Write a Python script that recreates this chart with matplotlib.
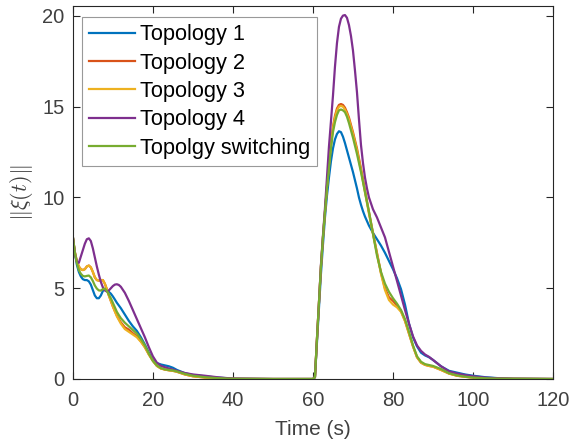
import matplotlib
matplotlib.use('Agg')
import matplotlib.pyplot as plt
import numpy as np

# time samples (s)
t = [0, 0.5, 1, 1.5, 2, 2.5, 3, 3.5, 4, 4.5, 5, 5.5, 6, 6.5, 7, 7.5, 8, 8.5,
     9, 9.5, 10, 10.5, 11, 11.5, 12,
     13, 14, 15, 16, 17, 18, 19, 20, 21, 22, 23, 24, 25, 26,
     28, 30, 33, 36, 40, 50, 60,
     60.5, 61, 61.5, 62, 62.5, 63, 63.5, 64, 64.5, 65, 65.5, 66, 66.5, 67,
     67.5, 68, 68.5, 69, 69.5, 70, 70.5, 71, 71.5, 72, 72.5, 73, 73.5, 74,
     75, 76, 77, 78, 79, 80, 81, 82, 83, 84, 85, 86, 87, 88, 89, 90,
     92, 94, 96, 98, 100, 103, 106, 110, 120]

topo1 = [7.84, 7.0, 6.3, 5.9, 5.65, 5.5, 5.45, 5.45, 5.38, 5.2, 4.9, 4.6, 4.45,
         4.45, 4.6, 4.85, 4.95, 4.9, 4.8, 4.7, 4.55, 4.38, 4.2, 4.05, 3.9,
         3.55, 3.2, 2.9, 2.65, 2.3, 1.9, 1.45, 1.05, 0.88, 0.8, 0.75, 0.7, 0.62, 0.5,
         0.32, 0.22, 0.15, 0.08, 0.02, 0, 0,
         0.1, 2.0, 3.9, 5.8, 7.4, 8.9, 10.1, 11.1, 12.0, 12.7, 13.2, 13.5, 13.65,
         13.6, 13.35, 13.0, 12.6, 12.2, 11.8, 11.4, 10.95, 10.5, 10.0, 9.6, 9.25,
         8.95, 8.7, 8.45,
         8.05, 7.7, 7.35, 6.95, 6.5, 6.05, 5.55, 4.95, 4.1, 3.05, 2.3, 1.8, 1.45,
         1.3, 1.2, 1.05,
         0.7, 0.45, 0.35, 0.25, 0.18, 0.1, 0.05, 0.02, 0]

topo2 = [7.84, 7.0, 6.5, 6.2, 6.05, 6.0, 6.05, 6.2, 6.25, 6.15, 5.9, 5.6, 5.45,
         5.42, 5.45, 5.45, 5.25, 4.95, 4.6, 4.3, 4.0, 3.74, 3.5, 3.3, 3.12,
         2.85, 2.72, 2.52, 2.35, 2.08, 1.75, 1.35, 1.0, 0.72, 0.58, 0.52, 0.48, 0.45, 0.4,
         0.25, 0.15, 0.08, 0.04, 0.01, 0, 0,
         0.1, 2.2, 4.2, 6.2, 7.8, 9.2, 10.6, 11.85, 12.95, 13.9, 14.5, 14.9, 15.1,
         15.15, 15.1, 14.95, 14.7, 14.4, 14.0, 13.6, 13.15, 12.7, 12.15, 11.6,
         11.0, 10.4, 9.8, 9.2,
         8.05, 6.95, 5.85, 5.0, 4.5, 4.3, 4.05, 3.75, 3.2, 2.5, 1.8, 1.2, 0.9,
         0.78, 0.72, 0.68,
         0.5, 0.3, 0.18, 0.12, 0.08, 0.04, 0.02, 0.01, 0]

topo3 = [7.84, 7.0, 6.5, 6.2, 6.05, 6.0, 6.05, 6.2, 6.25, 6.15, 5.9, 5.6, 5.45,
         5.42, 5.45, 5.45, 5.25, 4.95, 4.6, 4.3, 4.0, 3.72, 3.45, 3.25, 3.05,
         2.75, 2.6, 2.45, 2.3, 2.05, 1.75, 1.35, 1.0, 0.72, 0.58, 0.52, 0.48, 0.45, 0.4,
         0.25, 0.15, 0.08, 0.04, 0.01, 0, 0,
         0.1, 2.2, 4.2, 6.2, 7.8, 9.2, 10.6, 11.8, 12.9, 13.8, 14.4, 14.8, 15.0,
         15.05, 15.0, 14.85, 14.6, 14.3, 13.9, 13.5, 13.05, 12.6, 12.05, 11.5,
         10.9, 10.3, 9.7, 9.1,
         8.0, 6.9, 5.8, 4.9, 4.35, 4.1, 3.95, 3.7, 3.2, 2.5, 1.8, 1.2, 0.9,
         0.78, 0.72, 0.68,
         0.5, 0.3, 0.18, 0.12, 0.08, 0.04, 0.02, 0.01, 0]

topo4 = [7.84, 6.9, 6.45, 6.4, 6.75, 7.1, 7.45, 7.7, 7.75, 7.6, 7.2, 6.7, 6.2,
         5.75, 5.35, 5.05, 4.88, 4.82, 4.88, 5.0, 5.12, 5.2, 5.22, 5.18, 5.08,
         4.75, 4.3, 3.8, 3.3, 2.8, 2.3, 1.75, 1.25, 0.9, 0.72, 0.65, 0.58, 0.52, 0.45,
         0.33, 0.25, 0.18, 0.1, 0.02, 0, 0,
         0.1, 2.2, 4.2, 6.3, 7.9, 9.4, 11.1, 12.8, 14.2, 15.6, 17.2, 18.5, 19.4,
         19.85, 20.02, 20.05, 19.9, 19.5, 18.9, 18.1, 17.0, 15.8, 14.3, 12.9,
         11.9, 11.1, 10.5, 10.0,
         9.35, 8.9, 8.35, 7.8, 7.0, 6.2, 5.4, 4.6, 3.8, 3.05, 2.35, 1.85, 1.55,
         1.35, 1.22, 1.05,
         0.7, 0.42, 0.3, 0.22, 0.15, 0.08, 0.04, 0.01, 0]

switching = [7.84, 6.95, 6.4, 6.0, 5.8, 5.68, 5.65, 5.68, 5.7, 5.6, 5.4, 5.15,
             4.98, 4.88, 4.87, 4.95, 4.98, 4.85, 4.65, 4.45, 4.2, 3.95, 3.7, 3.52, 3.35,
             3.1, 2.9, 2.7, 2.5, 2.2, 1.85, 1.4, 1.0, 0.75, 0.6, 0.53, 0.5, 0.47, 0.42,
             0.28, 0.18, 0.1, 0.05, 0.01, 0, 0,
             0.1, 2.2, 4.2, 6.2, 7.8, 9.2, 10.5, 11.6, 12.7, 13.6, 14.15, 14.55,
             14.8, 14.85, 14.8, 14.7, 14.45, 14.1, 13.7, 13.3, 12.85, 12.4, 11.9,
             11.4, 10.85, 10.3, 9.75, 9.2,
             8.0, 6.8, 5.9, 5.25, 4.8, 4.45, 4.15, 3.8, 3.3, 2.6, 1.85, 1.25, 0.95,
             0.82, 0.77, 0.72,
             0.55, 0.32, 0.2, 0.13, 0.08, 0.04, 0.02, 0.01, 0]

labels = ['Topology 1', 'Topology 2', 'Topology 3', 'Topology 4', 'Topolgy switching']
colors = ['#0072BD', '#D95319', '#EDB120', '#7E2F8E', '#77AC30']

plt.rcParams['font.family'] = ['Liberation Sans', 'DejaVu Sans']
plt.rcParams['mathtext.fontset'] = 'cm'

fig = plt.figure(figsize=(5.69, 4.44), dpi=100)
ax = fig.add_axes([0.128, 0.1464, 0.844, 0.8401])

for y, lab, c in zip([topo1, topo2, topo3, topo4, switching], labels, colors):
    ax.plot(t, y, color=c, lw=1.6, label=lab)

ax.set_xlim(0, 120)
ax.set_ylim(0, 20.55)
ax.set_xticks(np.arange(0, 121, 20))
ax.set_yticks([0, 5, 10, 15, 20])

gray = '#262626'
ax.tick_params(direction='in', top=True, right=True, length=5, width=0.8,
               labelsize=14.5, colors=gray, labelcolor='#404040')
ax.tick_params(axis='x', pad=9)
ax.tick_params(axis='y', pad=6)
for s in ax.spines.values():
    s.set_color(gray)
    s.set_linewidth(0.8)

ax.set_xlabel('Time (s)', fontsize=15, color='#404040', labelpad=7)
ax.set_ylabel(r'$\|\xi(t)\|$', fontsize=16, color='#404040', labelpad=5)

leg = ax.legend(loc='upper left', bbox_to_anchor=(0.02, 0.97), fontsize=15.7,
                fancybox=False, framealpha=1, edgecolor='#999999',
                handlelength=2.1, handletextpad=0.2, labelspacing=0.34,
                borderpad=0.32, borderaxespad=0)
leg.get_frame().set_linewidth(0.8)

plt.savefig('out.png', dpi=100)
